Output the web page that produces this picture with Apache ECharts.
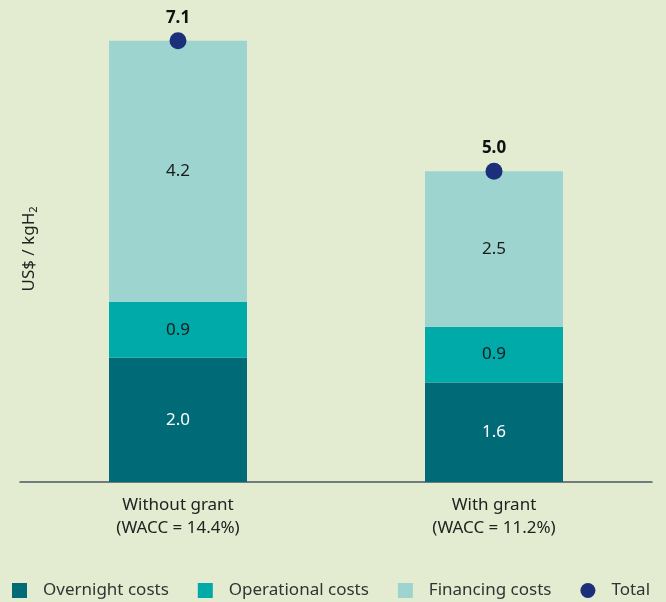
<!DOCTYPE html>
<html>
<head>
<meta charset="utf-8">
<style>
  html, body { margin: 0; padding: 0; background: #e3ecd1; }
  #chart { width: 666px; height: 602px; }
</style>
<script src="https://cdn.jsdelivr.net/npm/echarts@6/dist/echarts.min.js"></script>
</head>
<body>
<div id="chart"></div>
<script>
const categories = ['Without grant\n(WACC = 14.4%)', 'With grant\n(WACC = 11.2%)']
const overnight = [2.0, 1.6]
const operational = [0.9, 0.9]
const financing = [4.2, 2.5]
const totals = [7.1, 5.0]

const FONT = 'Noto Sans'
const chart = echarts.init(document.getElementById('chart'), null, { renderer: 'canvas' })

const barLabel = (color) => ({
  show: true,
  position: 'inside',
  color,
  fontFamily: FONT,
  fontSize: 17,
  formatter: (p) => p.value.toFixed(1),
})

chart.setOption({
  backgroundColor: '#e3ecd1',
  animation: false,
  textStyle: { fontFamily: FONT },
  grid: { left: 20, right: 14, top: 16, bottom: 120 },
  legend: {
    left: 12,
    top: 582,
    padding: 0,
    itemWidth: 15,
    itemHeight: 15,
    itemGap: 29,
    textStyle: { fontFamily: FONT, fontSize: 17, color: '#333', padding: [0, 0, 0, 11] },
    data: [
      { name: 'Overnight costs', icon: 'rect' },
      { name: 'Operational costs', icon: 'rect' },
      { name: 'Financing costs', icon: 'rect' },
      { name: 'Total', icon: 'circle' },
    ],
  },
  xAxis: {
    type: 'category',
    data: categories,
    axisTick: { show: false },
    axisLine: { lineStyle: { color: '#4a5560', width: 1.5 } },
    axisLabel: {
      color: '#222',
      fontFamily: FONT,
      fontSize: 17,
      lineHeight: 23,
      margin: 12,
    },
  },
  yAxis: {
    type: 'value',
    min: 0,
    max: 7.5,
    splitLine: { show: false },
    axisLabel: { show: false },
    axisTick: { show: false },
    axisLine: { show: false },
    name: '{a|US$ / kgH}{s|2}',
    nameLocation: 'middle',
    nameRotate: 90,
    nameGap: -19,
    nameTextStyle: {
      rich: {
        a: { fontFamily: FONT, fontSize: 17, color: '#222' },
        s: { fontFamily: FONT, fontSize: 11, color: '#222', padding: [8, 0, 0, 0] },
      },
    },
  },
  series: [
    {
      name: 'Overnight costs',
      type: 'bar',
      stack: 'cost',
      barWidth: 138,
      data: overnight,
      itemStyle: { color: '#006b77' },
      label: barLabel('#ffffff'),
    },
    {
      name: 'Operational costs',
      type: 'bar',
      stack: 'cost',
      data: operational,
      itemStyle: { color: '#00aaa8' },
      label: barLabel('#1a1a1a'),
    },
    {
      name: 'Financing costs',
      type: 'bar',
      stack: 'cost',
      data: financing,
      itemStyle: { color: '#9dd4cf' },
      label: barLabel('#1a1a1a'),
    },
    {
      name: 'Total',
      type: 'scatter',
      data: totals,
      symbolSize: 17,
      clip: false,
      z: 5,
      itemStyle: { color: '#1b2f7a', opacity: 1 },
      label: {
        show: true,
        position: 'top',
        distance: 6,
        color: '#111',
        fontFamily: FONT,
        fontSize: 17,
        fontWeight: 'bold',
        formatter: (p) => p.value.toFixed(1),
      },
    },
  ],
})
</script>
</body>
</html>
